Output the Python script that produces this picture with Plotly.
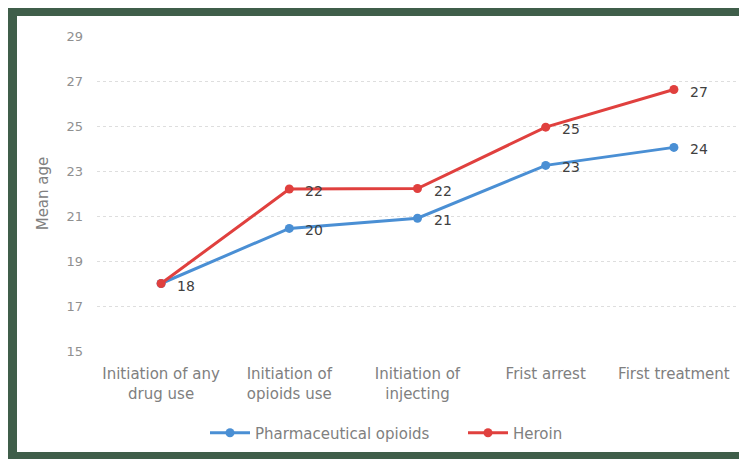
import plotly.graph_objects as go

categories = ["Initiation of any<br>drug use", "Initiation of<br>opioids use", "Initiation of<br>injecting",
              "Frist arrest", "First treatment"]
pharma = [18.0, 20.45, 20.9, 23.25, 24.05]
heroin = [18.0, 22.2, 22.22, 24.95, 26.62]
pharma_labels = ["", "20", "21", "23", "24"]
heroin_labels = ["18", "22", "22", "25", "27"]
y_ticks = [15, 17, 19, 21, 23, 25, 27, 29]

# the page body has an 8px margin; design in page pixels and shift
OFF = 8
W, H = 747 - OFF, 459 - OFF
L, R, T, B = 97 - OFF, 738 - OFF, 36 - OFF, 351 - OFF  # plot area (figure px)


def px(x):
    return (x - OFF - L) / (R - L)


def py(y):
    return (B - (y - OFF)) / (B - T)


FONT = "DejaVu Sans, Verdana, sans-serif"
fig = go.Figure()
blue = "#4a8fd4"
red = "#e0403e"
lab_font = dict(family=FONT, size=14, color="#404040")

fig.add_trace(go.Scatter(x=categories, y=pharma, name="Pharmaceutical opioids",
                         mode="lines+markers",
                         line=dict(color=blue, width=3), marker=dict(size=9, color=blue)))
fig.add_trace(go.Scatter(x=categories, y=heroin, name="Heroin",
                         mode="lines+markers",
                         line=dict(color=red, width=3), marker=dict(size=9, color=red)))

annotations = []
for vals, labs in [(pharma, pharma_labels), (heroin, heroin_labels)]:
    for c, v, t in zip(categories, vals, labs):
        if t:
            annotations.append(dict(x=c, y=v, xref="x", yref="y", text=t, showarrow=False,
                                    xanchor="left", yanchor="middle", xshift=14, yshift=-2,
                                    font=lab_font))

shapes = []
green = "#3f5e4a"
for (x0, y0, x1, y1) in [(OFF, OFF, 742, 16), (OFF, OFF, 17, 459), (OFF, 452, 742, 459)]:
    shapes.append(dict(type="rect", xref="paper", yref="paper",
                       x0=px(x0), x1=px(x1), y0=py(y1), y1=py(y0),
                       fillcolor=green, line=dict(width=0), layer="below"))

fig.update_layout(
    width=W, height=H,
    margin=dict(l=L, r=W - R, t=T, b=H - B, autoexpand=False),
    paper_bgcolor="white", plot_bgcolor="white",
    font=dict(family=FONT, color="#808080", size=13),
    shapes=shapes, annotations=annotations,
    showlegend=True,
    legend=dict(orientation="h", x=px(205), y=py(433), xanchor="left", yanchor="middle",
                font=dict(size=15, color="#808080"), itemwidth=40, entrywidth=203,
                bgcolor="rgba(0,0,0,0)"),
    xaxis=dict(range=[-0.5, 4.5], showgrid=False, showline=False, zeroline=False, ticks="",
               tickfont=dict(size=15, color="#808080"), ticklabelstandoff=12),
    yaxis=dict(range=[15, 29], tickvals=y_ticks, showgrid=True, gridcolor="#dedede",
               griddash="dot", gridwidth=1, zeroline=False, showline=False,
               tickfont=dict(size=13, color="#909090"), ticklabelstandoff=13,
               title=dict(text="Mean age", font=dict(size=15, color="#808080"), standoff=14)),
)

fig.write_html("out.html")
